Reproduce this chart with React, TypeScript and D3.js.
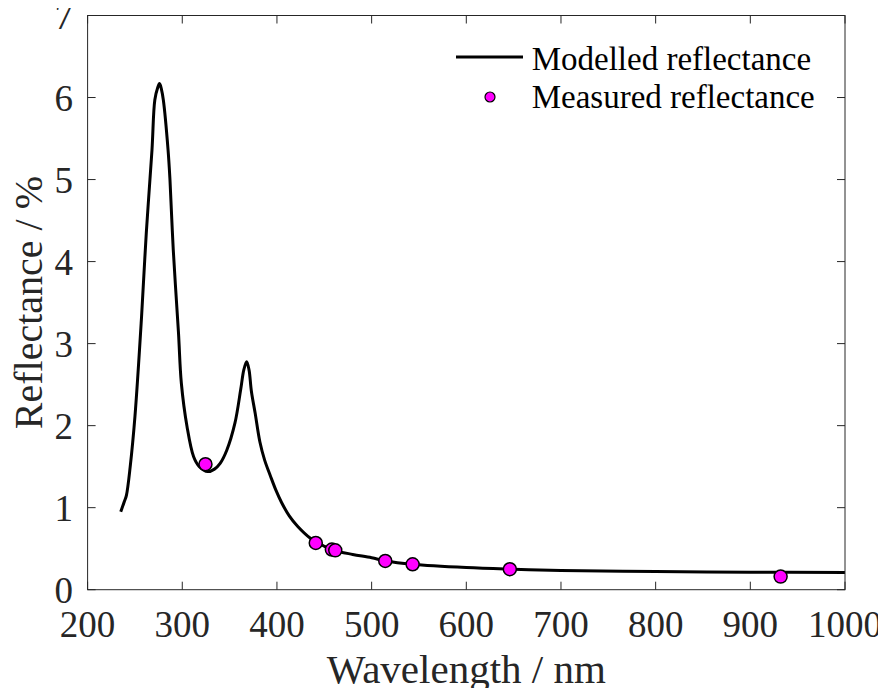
import React from "react";
import * as d3 from "d3";

const curveWavelength = [235, 239, 241, 245, 250, 257, 262, 268, 271, 274, 276, 278, 280, 285, 287, 290.5, 296, 299, 305, 312, 318, 327, 334, 340, 347, 355.6, 361.7, 365, 368, 370.5, 373, 377, 382, 387, 393, 399, 405, 413, 422, 435, 450, 460, 480, 500, 515, 543, 600, 650, 700, 800, 900, 1000];
const curveReflectance = [0.95, 1.08, 1.15, 1.5, 2.11, 3.33, 4.35, 5.36, 5.97, 6.12, 6.17, 6.1, 5.97, 5.36, 5.0, 4.14, 3.13, 2.52, 1.99, 1.62, 1.5, 1.44, 1.47, 1.54, 1.7, 2.03, 2.44, 2.68, 2.78, 2.68, 2.42, 2.15, 1.8, 1.58, 1.39, 1.21, 1.06, 0.9, 0.77, 0.63, 0.53, 0.48, 0.43, 0.39, 0.35, 0.31, 0.27, 0.25, 0.235, 0.222, 0.213, 0.21];

const measuredWavelength = [324.5, 441, 458, 461.6, 514.4, 543.3, 646, 932];
const measuredReflectance = [1.53, 0.57, 0.49, 0.48, 0.35, 0.31, 0.25, 0.16];

const xTicks = [200, 300, 400, 500, 600, 700, 800, 900, 1000];
const yTicks = [0, 1, 2, 3, 4, 5, 6, 7];

const W = 886;
const H = 696;
const left = 87.6;
const right = 845;
const top = 15.5;
const bottom = 589.7;
const AX = "#262626";
const SERIF = "Liberation Serif";

function T(props: any) {
  const { children, ...rest } = props;
  return (
    <text {...rest} fontFamily={SERIF} style={{ fontFamily: `"${SERIF}"` }}>
      {children}
    </text>
  );
}

export default function App() {
  const x = d3.scaleLinear().domain([200, 1000]).range([left, right]);
  const y = d3.scaleLinear().domain([0, 7]).range([bottom, top]);
  const pts: [number, number][] = curveWavelength.map((w, i) => [w, curveReflectance[i]]);
  const line = d3
    .line<[number, number]>()
    .x((d) => x(d[0]))
    .y((d) => y(d[1]))
    .curve(d3.curveCatmullRom.alpha(0.5));
  const tl = 8;
  return (
    <svg width={W - 16} height={H - 16} overflow="visible" style={{ display: "block", overflow: "visible" }}>
      <g transform="translate(-8,-8)">
        <rect x={0} y={0} width={W} height={H} fill="#fff" />
        <path d={line(pts) || ""} fill="none" stroke="#000" strokeWidth={3} strokeLinejoin="round" />
        {measuredWavelength.map((w, i) => (
          <circle key={i} cx={x(w)} cy={y(measuredReflectance[i])} r={6.5} fill="#ff00ff" stroke="#000" strokeWidth={1.5} />
        ))}
        <rect x={left} y={top} width={right - left} height={bottom - top} fill="none" stroke={AX} strokeWidth={1} />
        {xTicks.map((t) => (
          <g key={"x" + t}>
            <line x1={x(t)} x2={x(t)} y1={bottom} y2={bottom - tl} stroke={AX} />
            <line x1={x(t)} x2={x(t)} y1={top} y2={top + tl} stroke={AX} />
            <T x={x(t)} y={637} textAnchor="middle" fontSize={37} fill={AX}>
              {t}
            </T>
          </g>
        ))}
        {yTicks.map((t) => (
          <g key={"y" + t}>
            <line x1={left} x2={left + tl} y1={y(t)} y2={y(t)} stroke={AX} />
            <line x1={right} x2={right - tl} y1={y(t)} y2={y(t)} stroke={AX} />
            <T x={73} y={y(t) + 13} textAnchor="end" fontSize={37} fill={AX}>
              {t}
            </T>
          </g>
        ))}
        <T x={(left + right) / 2} y={683} textAnchor="middle" fontSize={41} fill={AX}>
          Wavelength / nm
        </T>
        <T transform={`translate(42, ${(top + bottom) / 2}) rotate(-90)`} textAnchor="middle" fontSize={40} fill={AX}>
          Reflectance / %
        </T>
        <line x1={456} x2={523} y1={57} y2={57} stroke="#000" strokeWidth={3} />
        <T x={531.7} y={70} fontSize={33} fill="#000">
          Modelled reflectance
        </T>
        <circle cx={490} cy={97} r={5} fill="#ff00ff" stroke="#000" strokeWidth={1.2} />
        <T x={531.7} y={108} fontSize={33} fill="#000">
          Measured reflectance
        </T>
      </g>
    </svg>
  );
}
